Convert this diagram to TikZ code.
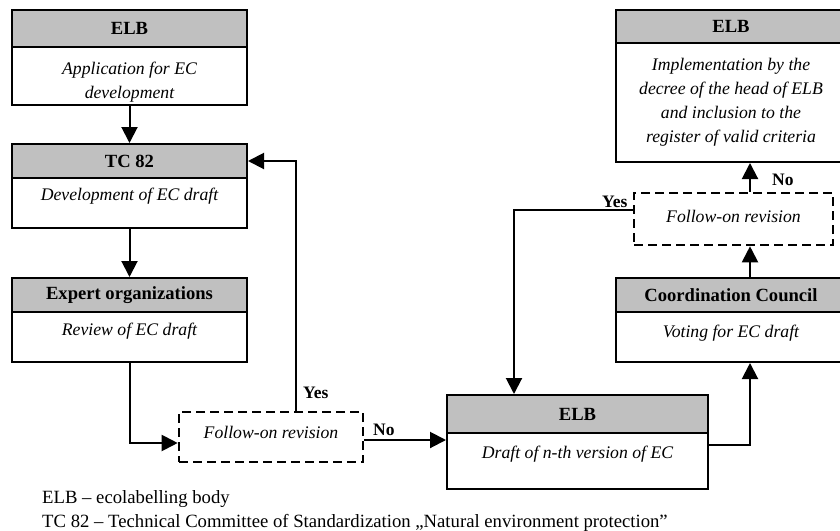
\documentclass[tikz,border=0pt]{standalone}
\usepackage{fontspec}
\setmainfont{Liberation Serif}
\usepackage{tikz}
\usetikzlibrary{arrows.meta}
\definecolor{hdrgray}{RGB}{192,192,192}

\begin{document}
\begin{tikzpicture}[x=1pt, y=-1pt,
	hdr/.style={draw=black, fill=hdrgray, line width=2pt, inner sep=0pt, font=\bfseries\fontsize{18.6}{22}\selectfont},
	bodybox/.style={draw=black, fill=white, line width=2pt, inner sep=0pt},
	bodytext/.style={anchor=north, align=center, inner sep=0pt, font=\itshape\fontsize{17.7}{24}\selectfont},
	revbox/.style={draw=black, line width=2.6pt, dash pattern=on 9pt off 5pt, inner sep=0pt, font=\itshape\fontsize{17.7}{22}\selectfont},
	arr/.style={line width=2pt, -{Triangle[length=16pt, width=16pt]}},
	answer/.style={anchor=base west, inner sep=0pt, font=\bfseries\fontsize{17.5}{20}\selectfont},
	legend/.style={anchor=base west, inner sep=0pt, font=\fontsize{18.7}{22}\selectfont}]
	\useasboundingbox (0, 0) rectangle (840, 530);

	\node [hdr, minimum width=235pt, minimum height=37pt] (elbapp) at (129.5, 28.5) {ELB};
	\node [bodybox, minimum width=235pt, minimum height=58pt] (elbappbody) at (129.5, 76) {};
	\node [bodytext] (elbapptext) at (129.5, 62) {Application for EC\\development};

	\node [hdr, minimum width=235pt, minimum height=34pt] (tc) at (129.5, 161) {TC 82};
	\node [bodybox, minimum width=235pt, minimum height=50pt] (tcbody) at (129.5, 203) {};
	\node [bodytext] (tctext) at (129.5, 188) {Development of EC draft};

	\node [hdr, minimum width=235pt, minimum height=34pt] (expert) at (129.5, 295) {Expert organizations};
	\node [bodybox, minimum width=235pt, minimum height=50pt] (expertbody) at (129.5, 337) {};
	\node [bodytext] (experttext) at (129.5, 323) {Review of EC draft};

	\node [revbox, minimum width=184pt, minimum height=50pt, text depth=10pt] (revfirst) at (271, 437) {Follow-on revision};

	\node [hdr, minimum width=261pt, minimum height=38pt] (elbdraft) at (577.5, 414) {ELB};
	\node [bodybox, minimum width=261pt, minimum height=56pt] (elbdraftbody) at (577.5, 461) {};
	\node [bodytext] (elbdrafttext) at (577.5, 446) {Draft of \textit{n}-th version of EC};

	\node [hdr, minimum width=230pt, minimum height=34pt] (council) at (731, 295) {Coordination Council};
	\node [bodybox, minimum width=230pt, minimum height=50pt] (councilbody) at (731, 337) {};
	\node [bodytext] (counciltext) at (731, 325) {Voting for EC draft};

	\node [revbox, minimum width=199pt, minimum height=52pt, text depth=6pt] (revsecond) at (733.5, 219) {Follow-on revision};

	\node [hdr, minimum width=230pt, minimum height=33pt] (elbimpl) at (731, 26.5) {ELB};
	\node [bodybox, minimum width=230pt, minimum height=119pt] (elbimplbody) at (731, 102.5) {};
	\node [bodytext] (elbimpltext) at (731, 58) {Implementation by the\\decree of the head of ELB\\and inclusion to the\\register of valid criteria};

	\coordinate (yesturn) at (296, 161);
	\coordinate (rightcol) at (750, 0);
	\coordinate (leftcol) at (514, 0);

	\draw [arr] (elbappbody) to (tc);
	\draw [arr] (tcbody) to (expert);
	\draw [arr] (expertbody.south) |- ([yshift=-6pt]revfirst.west);
	\draw [arr] (revfirst.north -| yesturn) |- (tc.east);
	\draw [arr] ([yshift=-3pt]revfirst.east) to ([yshift=-3pt]revfirst.east -| elbdraftbody.west);

	\draw [arr] ([yshift=16pt]elbdraftbody.east) -| (councilbody.south -| rightcol);
	\draw [arr] (council.north -| rightcol) to (revsecond.south -| rightcol);
	\draw [arr] (revsecond.north -| rightcol) to (elbimplbody.south -| rightcol);
	\draw [arr] ([yshift=9pt]revsecond.west) -| (elbdraft.north -| leftcol);

	\node [answer] (yesfirst) at (303, 398) {Yes};
	\node [answer] (nofirst) at (373, 435) {No};
	\node [answer] (yessecond) at (602, 207) {Yes};
	\node [answer] (nosecond) at (772, 185) {No};

	\node [legend] (legelb) at (42, 503) {ELB – ecolabelling body};
	\node [legend] (legtc) at (42, 527) {TC 82 – Technical Committee of Standardization „Natural environment protection”};

\end{tikzpicture}
\end{document}
